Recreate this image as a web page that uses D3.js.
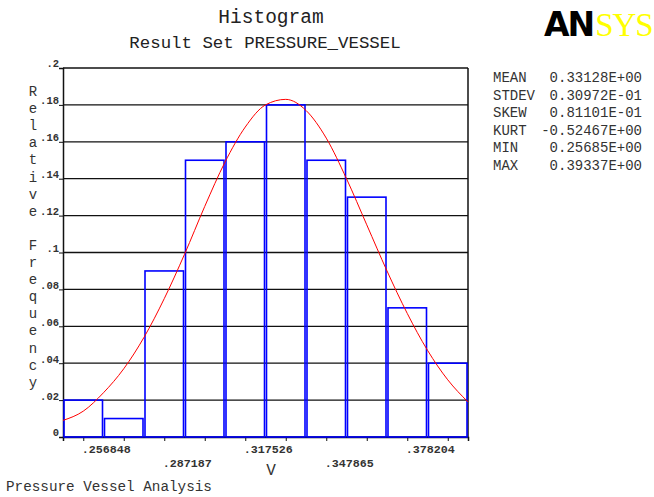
<!DOCTYPE html>
<html>
<head>
<meta charset="utf-8">
<script src="https://cdn.jsdelivr.net/npm/d3@7"></script>
<style>
  body { margin: 0; background: #fff; }
  text { font-family: "Liberation Mono", "Courier New", monospace; }
</style>
</head>
<body>
<script>
const width = 654;
const height = 497;

// bin centres (the tick values), relative frequency per bin
const binCenters = [0.256848, 0.2720175, 0.287187, 0.3023565, 0.317526, 0.3326955, 0.347865, 0.3630345, 0.378204, 0.3933735];
const binWidth = 0.0151695;
const relFreq = [0.02, 0.01, 0.09, 0.15, 0.16, 0.18, 0.15, 0.13, 0.07, 0.04];

// fitted curve (x, relative frequency)
const curveX = [0.24926, 0.25685, 0.26443, 0.27202, 0.27960, 0.28719, 0.29477, 0.30236, 0.30994, 0.31753, 0.32511,
                0.33270, 0.34028, 0.34787, 0.35545, 0.36304, 0.37062, 0.37820, 0.38579, 0.39337, 0.40096];
const curveY = [0.009, 0.014, 0.024, 0.037, 0.054, 0.075, 0.099, 0.125, 0.149, 0.168, 0.180,
                0.183, 0.177, 0.162, 0.140, 0.115, 0.090, 0.067, 0.047, 0.031, 0.019];

const yTicks = [0, 0.02, 0.04, 0.06, 0.08, 0.1, 0.12, 0.14, 0.16, 0.18, 0.2];
const xTickLabels = [".256848", "", ".287187", "", ".317526", "", ".347865", "", ".378204", ""];

const statNames = ["MEAN", "STDEV", "SKEW", "KURT", "MIN", "MAX"];
const statValues = ["0.33128E+00", "0.30972E-01", "0.81101E-01", "-0.52467E+00", "0.25685E+00", "0.39337E+00"];

const margin = { left: 63, right: 186, top: 68, bottom: 60 };
const mono = "'Liberation Mono', 'Courier New', monospace";
const ink = "#333";

let svg = d3.select("body").append("svg")
    .attr("width", width)
    .attr("height", height);

const x = d3.scaleLinear()
    .domain([binCenters[0] - binWidth / 2, binCenters[9] + binWidth / 2])
    .range([margin.left, width - margin.right]);
const y = d3.scaleLinear()
    .domain([0, 0.2])
    .range([height - margin.bottom, margin.top]);

// titles
svg.append("text").attr("x", 271).attr("y", 23).attr("text-anchor", "middle")
    .attr("font-size", 19.5).attr("fill", "#222").text("Histogram");
svg.append("text").attr("x", 265).attr("y", 48).attr("text-anchor", "middle")
    .attr("font-size", 17.4).attr("fill", "#222").text("Result Set PRESSURE_VESSEL");

// logo
const logo = svg.append("text").attr("x", 544).attr("y", 36)
    .attr("font-size", 33).attr("letter-spacing", -2);
logo.append("tspan").attr("font-family", "DejaVu Sans").attr("font-weight", "bold").attr("fill", "#000").text("AN");
logo.append("tspan").attr("font-family", "Liberation Serif").attr("fill", "#ffff00").attr("dx", 2)
    .attr("letter-spacing", -1).text("SYS");

// grid lines
svg.append("g").selectAll("line").data(yTicks).join("line")
    .attr("x1", x.range()[0]).attr("x2", x.range()[1])
    .attr("y1", d => y(d)).attr("y2", d => y(d))
    .attr("stroke", "#111").attr("stroke-width", 1.3);

// y axis
const yAxis = svg.append("g").attr("transform", `translate(${margin.left},0)`)
    .call(d3.axisLeft(y).tickValues(yTicks).tickSize(4).tickFormat(d => d === 0 ? "0" : d3.format(".2~f")(d).replace(/^0/, "")));
yAxis.attr("font-family", mono);
yAxis.select(".domain").attr("stroke", "#111").attr("stroke-width", 1.5);
yAxis.selectAll(".tick line").attr("stroke", "#111");
yAxis.selectAll("text").attr("font-size", 10.5).attr("font-weight", "bold").attr("fill", ink)
    .attr("x", -4).attr("dy", "-0.1em");

// x axis
const xAxis = svg.append("g").attr("transform", `translate(0,${y(0)})`)
    .call(d3.axisBottom(x).tickValues(binCenters).tickSize(4).tickFormat((d, i) => xTickLabels[i]));
xAxis.attr("font-family", mono);
xAxis.select(".domain").attr("stroke", "#111").attr("stroke-width", 1.5);
xAxis.selectAll(".tick line").attr("stroke", "#111");
xAxis.selectAll("text").attr("font-size", 11.7).attr("font-weight", "bold").attr("fill", ink)
    .attr("text-anchor", "start").attr("x", -2).attr("dy", 0)
    .attr("y", (d, i) => i % 4 === 0 ? 16 : 30);

// right border
svg.append("line").attr("x1", x.range()[1]).attr("x2", x.range()[1])
    .attr("y1", y(0)).attr("y2", y(0.2)).attr("stroke", "#111").attr("stroke-width", 1.5);

// bars
svg.append("g").selectAll("rect").data(relFreq).join("rect")
    .attr("x", (d, i) => x(binCenters[i] - binWidth / 2) + 1)
    .attr("width", x(binWidth) - x(0) - 2)
    .attr("y", d => y(d))
    .attr("height", d => y(0) - y(d))
    .attr("fill", "none")
    .attr("stroke", "#0000ff").attr("stroke-width", 1.6);

// fitted curve
const pts = curveX.map((v, i) => [v, curveY[i]]);
svg.append("path").datum(pts)
    .attr("d", d3.line().x(d => x(d[0])).y(d => y(d[1])).curve(d3.curveMonotoneX))
    .attr("fill", "none").attr("stroke", "#ff0000").attr("stroke-width", 1);

// y label, stacked characters
const yLabel = "Relative Frequency".split("");
svg.append("g").selectAll("text").data(yLabel).join("text")
    .attr("x", 33).attr("y", (d, i) => 96 + i * 17.1)
    .attr("text-anchor", "middle").attr("font-size", 14).attr("fill", ink)
    .text(d => d);

// x label
svg.append("text").attr("x", 271).attr("y", 475).attr("text-anchor", "middle")
    .attr("font-size", 16).attr("fill", ink).text("V");

// footer
svg.append("text").attr("x", 6).attr("y", 491).attr("font-size", 14.3).attr("fill", ink)
    .text("Pressure Vessel Analysis");

// stats
const stats = svg.append("g");
stats.selectAll("text.name").data(statNames).join("text").attr("class", "name")
    .attr("x", 493).attr("y", (d, i) => 82 + i * 17.6)
    .attr("font-size", 14).attr("fill", ink).text(d => d);
stats.selectAll("text.val").data(statValues).join("text").attr("class", "val")
    .attr("x", 642).attr("y", (d, i) => 82 + i * 17.6)
    .attr("text-anchor", "end").attr("font-size", 14).attr("fill", ink).text(d => d);
</script>
</body>
</html>
